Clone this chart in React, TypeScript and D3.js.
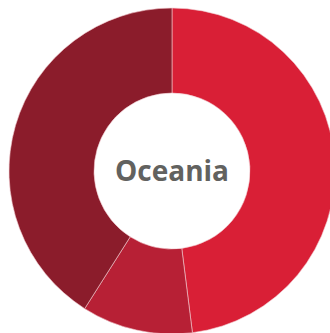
import React from "react";
import * as d3 from "d3";

const categories = ["A", "B", "C"];
const values = [48, 11, 41];
const colors = ["#D91F36", "#B72035", "#8B1C2B"];
const title = "Oceania";

export default function App() {
  const width = 330;
  const height = 333;
  const cx = 172;
  const cy = 171;
  const outer = 163;
  const inner = 78;
  const data = categories.map((c, i) => ({ c, v: values[i], color: colors[i] }));
  const pie = d3.pie<any>().value((d) => d.v).sort(null);
  const arc = d3.arc<any>().innerRadius(inner).outerRadius(outer);
  const arcs = pie(data);
  return (
    <svg
      width={width}
      height={height}
      style={{ position: "fixed", left: 0, top: 0, display: "block" }}
    >
      <rect width={width} height={height} fill="#fff" />
      <g transform={`translate(${cx},${cy})`}>
        {arcs.map((a, i) => (
          <path
            key={i}
            d={arc(a) as string}
            fill={a.data.color}
            stroke="#f2c9cf"
            strokeWidth={0.6}
          />
        ))}
        <text
          x={0}
          y={0}
          dy="0.35em"
          textAnchor="middle"
          fontFamily="'Open Sans', sans-serif"
          fontWeight={700}
          fontSize={28}
          fill="#62625f"
        >
          {title}
        </text>
      </g>
    </svg>
  );
}
